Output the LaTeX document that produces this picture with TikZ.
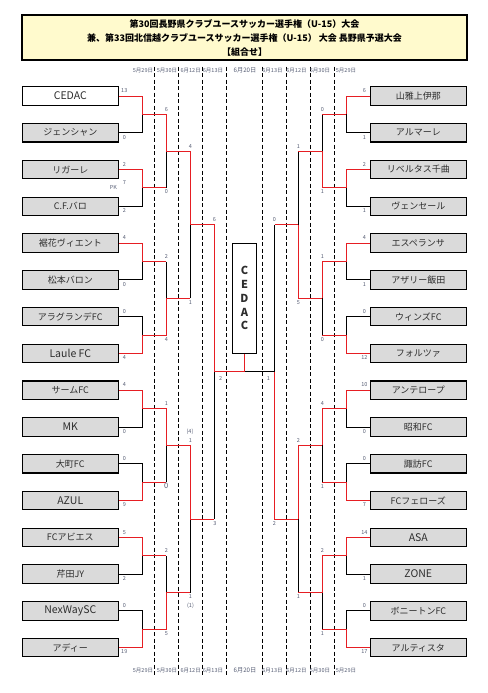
\documentclass[tikz,border=0pt]{standalone}
\usepackage{fontspec}
\setmainfont{Noto Sans CJK JP}
\definecolor{winred}{RGB}{230,30,35}
\definecolor{boxgray}{RGB}{218,218,218}
\definecolor{titlebg}{RGB}{255,250,205}
\definecolor{scoregray}{RGB}{85,92,115}
\definecolor{namegray}{RGB}{45,45,45}
\begin{document}
\begin{tikzpicture}[x=1pt,y=-1pt,
  team/.style={draw=black, line width=1.1pt, fill=boxgray, minimum width=96pt, minimum height=18.4pt, inner sep=0pt, text=namegray, font=\fontsize{9}{10}\selectfont},
  latin/.style={team, font=\fontsize{10.5}{11}\selectfont},
  score/.style={inner sep=0pt, text=scoregray, font=\fontsize{5.5}{6}\selectfont},
  day/.style={inner sep=0pt, text=scoregray, font=\fontsize{5.5}{6}\selectfont},
  dayline/.style={draw=black, line width=0.8pt, dash pattern=on 4pt off 2.5pt},
  winline/.style={draw=winred, line width=0.9pt},
  loseline/.style={draw=black, line width=0.9pt}]
\useasboundingbox (0,0) rectangle (487,693);
\node (title) at (244.5,37.5) [draw, line width=1.3pt, fill=titlebg, minimum width=445pt, minimum height=45pt, align=center, font=\bfseries\fontsize{9}{14}\selectfont] {第30回長野県クラブユースサッカー選手権（U-15）大会\\兼、第33回北信越クラブユースサッカー選手権（U-15） 大会 長野県予選大会\\【組合せ】};
\draw [dayline] (154.3,66.7) -- (154.3,675);
\draw [dayline] (178.3,66.7) -- (178.3,675);
\draw [dayline] (202.3,66.7) -- (202.3,675);
\draw [dayline] (226.3,66.7) -- (226.3,675);
\draw [dayline] (262.5,66.7) -- (262.5,675);
\draw [dayline] (286.3,66.7) -- (286.3,675);
\draw [dayline] (310.3,66.7) -- (310.3,675);
\draw [dayline] (334.3,66.7) -- (334.3,675);
\node (d1t) at (143,70.7) [day] {5月29日};
\node (d2t) at (167,70.7) [day] {5月30日};
\node (d3t) at (190.7,70.7) [day] {6月12日};
\node (d4t) at (213,70.7) [day] {6月13日};
\node (d5t) at (245,70.7) [day, font=\fontsize{6.2}{7}\selectfont] {6月20日};
\node (d6t) at (272.5,70.7) [day] {6月13日};
\node (d7t) at (296.5,70.7) [day] {6月12日};
\node (d8t) at (320,70.7) [day] {5月30日};
\node (d9t) at (346,70.7) [day] {5月29日};
\node (d1b) at (143,670.7) [day] {5月29日};
\node (d2b) at (167,670.7) [day] {5月30日};
\node (d3b) at (190.7,670.7) [day] {6月12日};
\node (d4b) at (213,670.7) [day] {6月13日};
\node (d5b) at (245,670.7) [day, font=\fontsize{6.2}{7}\selectfont] {6月20日};
\node (d6b) at (272.5,670.7) [day] {6月13日};
\node (d7b) at (296.5,670.7) [day] {6月12日};
\node (d8b) at (320,670.7) [day] {5月30日};
\node (d9b) at (346,670.7) [day] {5月29日};
\node (l1) at (70.3,96.0) [latin, fill=white] {CEDAC};
\node (l2) at (70.3,132.8) [team] {ジェンシャン};
\node (l3) at (70.3,169.6) [team] {リガーレ};
\node (l4) at (70.3,206.3) [team] {C.F.バロ};
\node (l5) at (70.3,243.1) [team] {裾花ヴィエント};
\node (l6) at (70.3,279.9) [team] {松本バロン};
\node (l7) at (70.3,316.7) [team] {アラグランデFC};
\node (l8) at (70.3,353.5) [latin] {Laule FC};
\node (l9) at (70.3,390.2) [team] {サームFC};
\node (l10) at (70.3,427.0) [latin] {MK};
\node (l11) at (70.3,463.8) [team] {大町FC};
\node (l12) at (70.3,500.6) [latin] {AZUL};
\node (l13) at (70.3,537.4) [team] {FCアビエス};
\node (l14) at (70.3,574.1) [team] {芹田JY};
\node (l15) at (70.3,610.9) [latin] {NexWaySC};
\node (l16) at (70.3,647.7) [team] {アディー};
\node (r1) at (418.3,96.0) [team] {山雅上伊那};
\node (r2) at (418.3,132.8) [team] {アルマーレ};
\node (r3) at (418.3,169.6) [team] {リベルタス千曲};
\node (r4) at (418.3,206.3) [team] {ヴェンセール};
\node (r5) at (418.3,243.1) [team] {エスペランサ};
\node (r6) at (418.3,279.9) [team] {アザリー飯田};
\node (r7) at (418.3,316.7) [team] {ウィンズFC};
\node (r8) at (418.3,353.5) [team] {フォルツァ};
\node (r9) at (418.3,390.2) [team] {アンテロープ};
\node (r10) at (418.3,427.0) [team] {昭和FC};
\node (r11) at (418.3,463.8) [team] {諏訪FC};
\node (r12) at (418.3,500.6) [team] {FCフェローズ};
\node (r13) at (418.3,537.4) [latin] {ASA};
\node (r14) at (418.3,574.1) [latin] {ZONE};
\node (r15) at (418.3,610.9) [team] {ボニートンFC};
\node (r16) at (418.3,647.7) [team] {アルティスタ};
\node (cbox) at (244.5,298.3) [draw, line width=0.9pt, fill=white, minimum width=24.4pt, minimum height=110pt, inner sep=0pt, align=center, text=namegray, font=\bfseries\fontsize{11}{13.8}\selectfont] {C\\E\\D\\A\\C};
\coordinate (la1) at (142.3,114.4);
\coordinate (la2) at (142.3,187.9);
\coordinate (la3) at (142.3,261.5);
\coordinate (la4) at (142.3,335.1);
\coordinate (la5) at (142.3,408.6);
\coordinate (la6) at (142.3,482.2);
\coordinate (la7) at (142.3,555.8);
\coordinate (la8) at (142.3,629.3);
\coordinate (lb1) at (166.3,151.2);
\coordinate (lb2) at (166.3,298.3);
\coordinate (lb3) at (166.3,445.4);
\coordinate (lb4) at (166.3,592.5);
\coordinate (lc1) at (190.3,224.7);
\coordinate (lc2) at (190.3,519.0);
\coordinate (ld) at (214.0,371.9);
\coordinate (ra1) at (346.3,114.4);
\coordinate (ra2) at (346.3,187.9);
\coordinate (ra3) at (346.3,261.5);
\coordinate (ra4) at (346.3,335.1);
\coordinate (ra5) at (346.3,408.6);
\coordinate (ra6) at (346.3,482.2);
\coordinate (ra7) at (346.3,555.8);
\coordinate (ra8) at (346.3,629.3);
\coordinate (rb1) at (322.3,151.2);
\coordinate (rb2) at (322.3,298.3);
\coordinate (rb3) at (322.3,445.4);
\coordinate (rb4) at (322.3,592.5);
\coordinate (rc1) at (298.3,224.7);
\coordinate (rc2) at (298.3,519.0);
\coordinate (rd) at (274.6,371.9);
\coordinate (fin) at (244.5,371.9);
\draw [loseline] (l2.east) -| (la1);
\draw [winline] (l1.east) -| (la1);
\draw [loseline] (l4.east) -| (la2);
\draw [winline] (l3.east) -| (la2);
\draw [loseline] (l6.east) -| (la3);
\draw [winline] (l5.east) -| (la3);
\draw [loseline] (l7.east) -| (la4);
\draw [winline] (l8.east) -| (la4);
\draw [loseline] (l10.east) -| (la5);
\draw [winline] (l9.east) -| (la5);
\draw [loseline] (l11.east) -| (la6);
\draw [winline] (l12.east) -| (la6);
\draw [loseline] (l14.east) -| (la7);
\draw [winline] (l13.east) -| (la7);
\draw [loseline] (l15.east) -| (la8);
\draw [winline] (l16.east) -| (la8);
\draw [loseline] (la2 -| lb1) -- (lb1);
\draw [winline] (la2) -- (la2 -| lb1);
\draw [winline] (la1) -| (lb1);
\draw [loseline] (la3 -| lb2) -- (lb2);
\draw [winline] (la3) -- (la3 -| lb2);
\draw [winline] (la4) -| (lb2);
\draw [loseline] (la6 -| lb3) -- (lb3);
\draw [winline] (la6) -- (la6 -| lb3);
\draw [winline] (la5) -| (lb3);
\draw [loseline] (la7 -| lb4) -- (lb4);
\draw [winline] (la7) -- (la7 -| lb4);
\draw [winline] (la8) -| (lb4);
\draw [loseline] (lb2 -| lc1) -- (lc1);
\draw [winline] (lb2) -- (lb2 -| lc1);
\draw [winline] (lb1) -| (lc1);
\draw [loseline] (lb4 -| lc2) -- (lc2);
\draw [winline] (lb4) -- (lb4 -| lc2);
\draw [winline] (lb3) -| (lc2);
\draw [loseline] (lc2 -| ld) -- (ld);
\draw [winline] (lc2) -- (lc2 -| ld);
\draw [winline] (lc1) -| (ld);
\draw [loseline] (r2.west) -| (ra1);
\draw [winline] (r1.west) -| (ra1);
\draw [loseline] (r4.west) -| (ra2);
\draw [winline] (r3.west) -| (ra2);
\draw [loseline] (r6.west) -| (ra3);
\draw [winline] (r5.west) -| (ra3);
\draw [loseline] (r7.west) -| (ra4);
\draw [winline] (r8.west) -| (ra4);
\draw [loseline] (r10.west) -| (ra5);
\draw [winline] (r9.west) -| (ra5);
\draw [loseline] (r11.west) -| (ra6);
\draw [winline] (r12.west) -| (ra6);
\draw [loseline] (r14.west) -| (ra7);
\draw [winline] (r13.west) -| (ra7);
\draw [loseline] (r15.west) -| (ra8);
\draw [winline] (r16.west) -| (ra8);
\draw [loseline] (ra1 -| rb1) -- (rb1);
\draw [winline] (ra1) -- (ra1 -| rb1);
\draw [winline] (ra2) -| (rb1);
\draw [loseline] (ra4 -| rb2) -- (rb2);
\draw [winline] (ra4) -- (ra4 -| rb2);
\draw [winline] (ra3) -| (rb2);
\draw [loseline] (ra6 -| rb3) -- (rb3);
\draw [winline] (ra6) -- (ra6 -| rb3);
\draw [winline] (ra5) -| (rb3);
\draw [loseline] (ra8 -| rb4) -- (rb4);
\draw [winline] (ra8) -- (ra8 -| rb4);
\draw [winline] (ra7) -| (rb4);
\draw [loseline] (rb1 -| rc1) -- (rc1);
\draw [winline] (rb1) -- (rb1 -| rc1);
\draw [winline] (rb2) -| (rc1);
\draw [loseline] (rb4 -| rc2) -- (rc2);
\draw [winline] (rb4) -- (rb4 -| rc2);
\draw [winline] (rb3) -| (rc2);
\draw [loseline] (rc1 -| rd) -- (rd);
\draw [winline] (rc1) -- (rc1 -| rd);
\draw [winline] (rc2) -| (rd);
\draw [loseline] (fin) -- (rd);
\draw [winline] (ld) -- (fin);
\draw [winline] (cbox.south) -- (fin);
\node (s1) at (124.3,90.7) [score] {13};
\node (s2) at (124.3,137.1) [score] {0};
\node (s3) at (124.3,164.3) [score] {2};
\node (s4) at (124.3,210.6) [score] {2};
\node (pk) at (124.3,182.7) [score] {7};
\node (pklabel) at (113.3,187.3) [score] {PK};
\node (s5) at (124.3,237.8) [score] {4};
\node (s6) at (124.3,284.2) [score] {0};
\node (s7) at (124.3,311.4) [score] {0};
\node (s8) at (124.3,357.8) [score] {4};
\node (s9) at (124.3,384.9) [score] {4};
\node (s10) at (124.3,431.3) [score] {0};
\node (s11) at (124.3,458.5) [score] {0};
\node (s12) at (124.3,504.9) [score] {9};
\node (s13) at (124.3,532.1) [score] {5};
\node (s14) at (124.3,578.4) [score] {2};
\node (s15) at (124.3,605.6) [score] {0};
\node (s16) at (124.3,652.0) [score] {19};
\node (t1) at (364.3,90.7) [score] {6};
\node (t2) at (364.3,137.1) [score] {1};
\node (t3) at (364.3,164.3) [score] {2};
\node (t4) at (364.3,210.6) [score] {1};
\node (t5) at (364.3,237.8) [score] {4};
\node (t6) at (364.3,284.2) [score] {1};
\node (t7) at (364.3,311.4) [score] {0};
\node (t8) at (364.3,357.8) [score] {12};
\node (t9) at (364.3,384.9) [score] {10};
\node (t10) at (364.3,431.3) [score] {0};
\node (t11) at (364.3,458.5) [score] {0};
\node (t12) at (364.3,504.9) [score] {7};
\node (t13) at (364.3,532.1) [score] {14};
\node (t14) at (364.3,578.4) [score] {1};
\node (t15) at (364.3,605.6) [score] {0};
\node (t16) at (364.3,652.0) [score] {17};
\node (sa1) at (166.3,109.3) [score] {6};
\node (sa2) at (166.3,191.9) [score] {0};
\node (sa3) at (166.3,256.4) [score] {2};
\node (sa4) at (166.3,339.1) [score] {4};
\node (sa5) at (166.3,403.5) [score] {1};
\node (sa6) at (166.3,486.2) [score, font=\fontsize{7.5}{8}\selectfont] {0};
\node (sa7) at (166.3,550.7) [score] {2};
\node (sa8) at (166.3,633.3) [score] {5};
\node (ta1) at (322.5,109.3) [score] {0};
\node (ta2) at (322.5,191.9) [score] {1};
\node (ta3) at (322.5,256.4) [score] {1};
\node (ta4) at (322.5,339.1) [score] {0};
\node (ta5) at (322.5,403.5) [score] {4};
\node (ta6) at (322.5,486.2) [score] {1};
\node (ta7) at (322.5,550.7) [score] {2};
\node (ta8) at (322.5,633.3) [score] {1};
\node (sb1) at (190.5,146.1) [score] {4};
\node (sb2) at (190.5,302.3) [score] {1};
\node (sb3) at (190.5,440.3) [score] {1};
\node (sb3pk) at (190.0,431.5) [score] {(4)};
\node (sb4) at (190.5,596.5) [score] {1};
\node (sb4pk) at (190.5,606.0) [score] {(1)};
\node (tb1) at (298.5,146.1) [score] {1};
\node (tb2) at (298.5,302.3) [score] {5};
\node (tb3) at (298.5,440.3) [score] {2};
\node (tb4) at (298.5,596.5) [score] {1};
\node (sc1) at (214.3,219.6) [score] {6};
\node (sc2) at (214.8,523.5) [score] {3};
\node (tc1) at (274.5,219.6) [score] {0};
\node (tc2) at (274.5,523.5) [score] {2};
\node (sfin) at (220.7,378.3) [score] {2};
\node (tfin) at (268.3,378.3) [score] {1};
\end{tikzpicture}
\end{document}
